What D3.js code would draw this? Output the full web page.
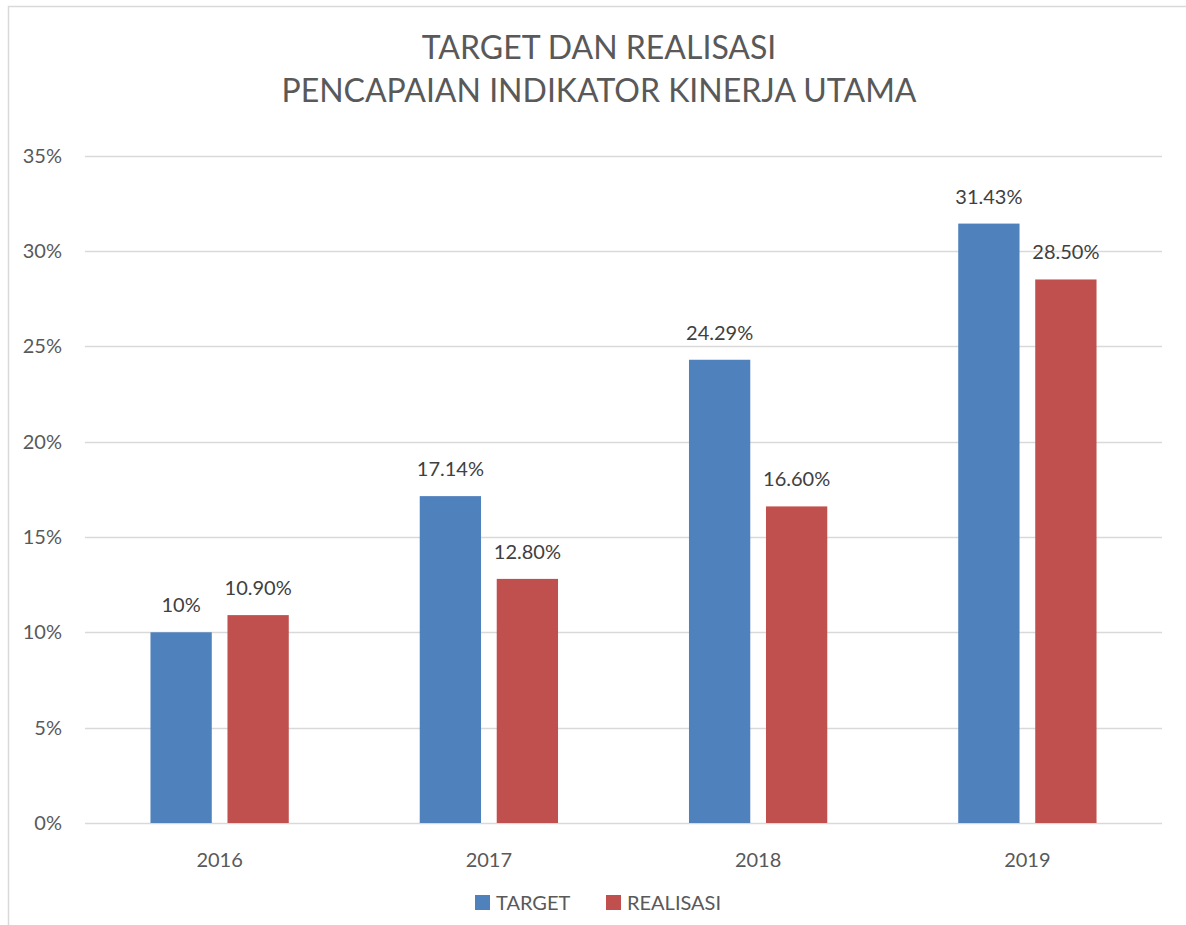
<!DOCTYPE html>
<html><head><meta charset="utf-8">
<script src="https://cdn.jsdelivr.net/npm/d3@7"></script>
<style>
body{margin:0;background:#fff;}
text{font-family:Lato,"Open Sans",sans-serif;fill:#595959;}
</style></head>
<body>
<svg id="chart" width="1186" height="925"></svg>
<script>
const categories = ["2016","2017","2018","2019"];
const seriesNames = ["TARGET","REALISASI"];
const target = [10.00, 17.14, 24.29, 31.43];
const realisasi = [10.90, 12.80, 16.60, 28.50];
const targetLabels = ["10%","17.14%","24.29%","31.43%"];
const realisasiLabels = ["10.90%","12.80%","16.60%","28.50%"];
const yTicks = [0,5,10,15,20,25,30,35];
const titleLines = ["TARGET DAN REALISASI","PENCAPAIAN INDIKATOR KINERJA UTAMA"];
const colors = ["#4F81BD","#C0504D"];

(function(){
const svg = d3.select("#chart");
// outer border
svg.append("rect").attr("x",8.5).attr("y",6.5).attr("width",1200).attr("height",1000)
  .attr("fill","none").attr("stroke","#d9d9d9").attr("stroke-width",1.5);

const pLeft=85, pRight=1162, pTop=155.5, pBottom=823;
const y = d3.scaleLinear().domain([0,35]).range([pBottom,pTop]);
const x0 = d3.scaleBand().domain(categories).range([pLeft,pRight]).paddingInner(0).paddingOuter(0);
const x1 = d3.scaleBand().domain(seriesNames).range([0,138.3]).paddingInner(0.2039).paddingOuter(0);
const groupOffset = (x0.bandwidth()-138.3)/2;

// gridlines
svg.append("g").selectAll("line").data(yTicks).join("line")
  .attr("x1",pLeft).attr("x2",pRight)
  .attr("y1",d=>Math.round(y(d))+0.5).attr("y2",d=>Math.round(y(d))+0.5)
  .attr("stroke","#d9d9d9").attr("stroke-width",1.5);

// y axis labels
svg.append("g").selectAll("text").data(yTicks).join("text")
  .attr("x",62).attr("y",d=>y(d)+7).attr("text-anchor","end")
  .attr("font-size",20).text(d=>d+"%");

// bars
const data = categories.map((c,i)=>({c, vals:[
  {s:"TARGET",v:target[i],l:targetLabels[i]},
  {s:"REALISASI",v:realisasi[i],l:realisasiLabels[i]}]}));
const g = svg.append("g").selectAll("g").data(data).join("g")
  .attr("transform",d=>`translate(${x0(d.c)+groupOffset},0)`);
g.selectAll("rect").data(d=>d.vals).join("rect")
  .attr("x",d=>x1(d.s)).attr("width",x1.bandwidth())
  .attr("y",d=>y(d.v)).attr("height",d=>pBottom-y(d.v))
  .attr("fill",(d,i)=>colors[i]);
g.selectAll("text").data(d=>d.vals).join("text")
  .attr("x",d=>x1(d.s)+x1.bandwidth()/2).attr("y",d=>y(d.v)-20)
  .attr("text-anchor","middle").attr("font-size",20)
  .style("fill","#404040").text(d=>d.l);

// x axis labels
svg.append("g").selectAll("text").data(categories).join("text")
  .attr("x",d=>x0(d)+x0.bandwidth()/2).attr("y",867).attr("text-anchor","middle")
  .attr("font-size",20).text(d=>d);

// title
svg.append("g").selectAll("text").data(titleLines).join("text")
  .attr("x",599).attr("y",(d,i)=>59+i*43).attr("text-anchor","middle")
  .attr("font-size",32).text(d=>d);

// legend
const legendX=[475,606];
const lg = svg.append("g").selectAll("g").data(seriesNames).join("g")
  .attr("transform",(d,i)=>`translate(${legendX[i]},895)`);
lg.append("rect").attr("width",15).attr("height",15).attr("fill",(d,i)=>colors[i]);
lg.append("text").attr("x",21).attr("y",15).attr("font-size",20).text(d=>d);
})();
</script>
</body></html>
